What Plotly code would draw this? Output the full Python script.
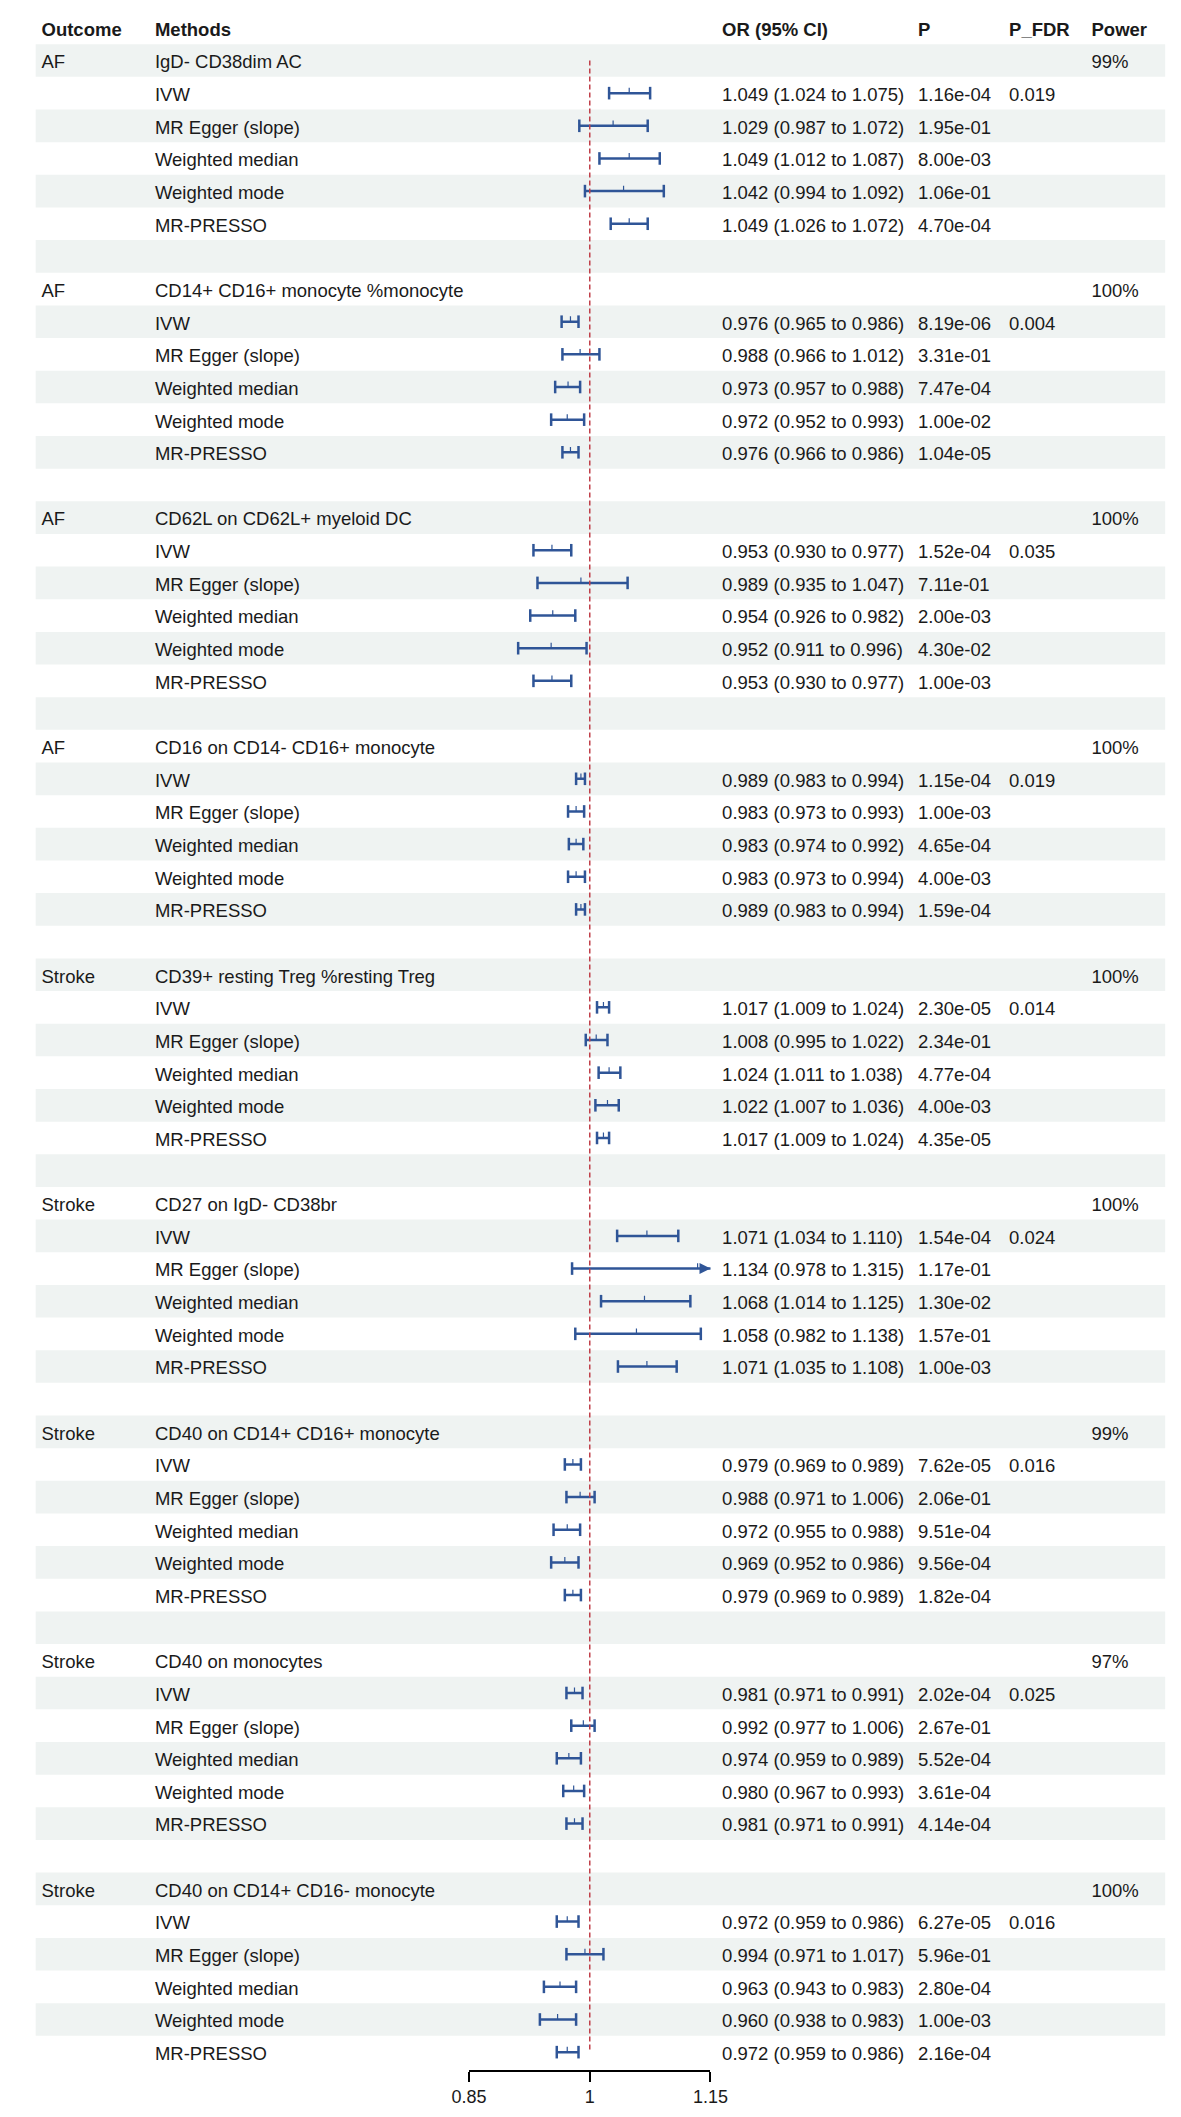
import plotly.graph_objects as go

# data
outcomes = ["AF", "AF", "AF", "AF", "Stroke", "Stroke", "Stroke", "Stroke", "Stroke"]
exposures = [
    "IgD- CD38dim AC",
    "CD14+ CD16+ monocyte %monocyte",
    "CD62L on CD62L+ myeloid DC",
    "CD16 on CD14- CD16+ monocyte",
    "CD39+ resting Treg %resting Treg",
    "CD27 on IgD- CD38br",
    "CD40 on CD14+ CD16+ monocyte",
    "CD40 on monocytes",
    "CD40 on CD14+ CD16- monocyte",
]
power = ["99%", "100%", "100%", "100%", "100%", "100%", "99%", "97%", "100%"]
p_fdr = ["0.019", "0.004", "0.035", "0.019", "0.014", "0.024", "0.016", "0.025", "0.016"]
methods = ["IVW", "MR Egger (slope)", "Weighted median", "Weighted mode", "MR-PRESSO"]

or_est = [
    [1.049, 1.029, 1.049, 1.042, 1.049],
    [0.976, 0.988, 0.973, 0.972, 0.976],
    [0.953, 0.989, 0.954, 0.952, 0.953],
    [0.989, 0.983, 0.983, 0.983, 0.989],
    [1.017, 1.008, 1.024, 1.022, 1.017],
    [1.071, 1.134, 1.068, 1.058, 1.071],
    [0.979, 0.988, 0.972, 0.969, 0.979],
    [0.981, 0.992, 0.974, 0.980, 0.981],
    [0.972, 0.994, 0.963, 0.960, 0.972],
]
ci_low = [
    [1.024, 0.987, 1.012, 0.994, 1.026],
    [0.965, 0.966, 0.957, 0.952, 0.966],
    [0.930, 0.935, 0.926, 0.911, 0.930],
    [0.983, 0.973, 0.974, 0.973, 0.983],
    [1.009, 0.995, 1.011, 1.007, 1.009],
    [1.034, 0.978, 1.014, 0.982, 1.035],
    [0.969, 0.971, 0.955, 0.952, 0.969],
    [0.971, 0.977, 0.959, 0.967, 0.971],
    [0.959, 0.971, 0.943, 0.938, 0.959],
]
ci_high = [
    [1.075, 1.072, 1.087, 1.092, 1.072],
    [0.986, 1.012, 0.988, 0.993, 0.986],
    [0.977, 1.047, 0.982, 0.996, 0.977],
    [0.994, 0.993, 0.992, 0.994, 0.994],
    [1.024, 1.022, 1.038, 1.036, 1.024],
    [1.110, 1.315, 1.125, 1.138, 1.108],
    [0.989, 1.006, 0.988, 0.986, 0.989],
    [0.991, 1.006, 0.989, 0.993, 0.991],
    [0.986, 1.017, 0.983, 0.983, 0.986],
]
p_vals = [
    ["1.16e-04", "1.95e-01", "8.00e-03", "1.06e-01", "4.70e-04"],
    ["8.19e-06", "3.31e-01", "7.47e-04", "1.00e-02", "1.04e-05"],
    ["1.52e-04", "7.11e-01", "2.00e-03", "4.30e-02", "1.00e-03"],
    ["1.15e-04", "1.00e-03", "4.65e-04", "4.00e-03", "1.59e-04"],
    ["2.30e-05", "2.34e-01", "4.77e-04", "4.00e-03", "4.35e-05"],
    ["1.54e-04", "1.17e-01", "1.30e-02", "1.57e-01", "1.00e-03"],
    ["7.62e-05", "2.06e-01", "9.51e-04", "9.56e-04", "1.82e-04"],
    ["2.02e-04", "2.67e-01", "5.52e-04", "3.61e-04", "4.14e-04"],
    ["6.27e-05", "5.96e-01", "2.80e-04", "1.00e-03", "2.16e-04"],
]

W, H = 1181, 2117
ROW0, ROWH = 52.5, 32.65          # pixel centre of first row, row height
XMIN, XMAX = 0.85, 1.15
FONT = "Liberation Sans"
FS = 18.5
BLUE = "#2f5597"
BAND = "#eff3f2"
TXT = "#1a1a1a"
col_x = dict(outcome=16, method=133, orci=718, p=920, fdr=1014, power=1099)
TOFF = 0.1  # text sits a little below the band centre

n_rows = len(exposures) * 7 - 1

fig = go.Figure()

# alternating row bands
shapes = []
for k in range(n_rows):
    if k % 2 == 0:
        shapes.append(dict(type="rect", xref="paper", yref="y", x0=10 / W, x1=1175 / W,
                           y0=k - 0.5, y1=k + 0.5, fillcolor=BAND, line_width=0, layer="below"))

# reference line at OR = 1
shapes.append(dict(type="line", xref="x", yref="y", x0=1, x1=1, y0=0, y1=n_rows - 1,
                   line=dict(color="#c0404a", width=1.5, dash="5px,3px")))

# table text
tx, ty, tt = [], [], []
def put(col, k, s):
    tx.append(col_x[col]); ty.append(k + TOFF); tt.append(s)

ci_x, ci_y, cap_x, cap_y, pt_x, pt_y, arr_x, arr_y = [], [], [], [], [], [], [], []
for g in range(len(exposures)):
    k0 = g * 7
    put("outcome", k0, outcomes[g])
    put("method", k0, exposures[g])
    put("power", k0, power[g])
    for m, name in enumerate(methods):
        k = k0 + 1 + m
        put("method", k, name)
        put("orci", k, f"{or_est[g][m]:.3f} ({ci_low[g][m]:.3f} to {ci_high[g][m]:.3f})")
        put("p", k, p_vals[g][m])
        if m == 0:
            put("fdr", k, p_fdr[g])
        lo, hi = ci_low[g][m], ci_high[g][m]
        ci_x += [lo, hi, None]
        ci_y += [k, k, None]
        cap_x.append(lo); cap_y.append(k)
        if hi > XMAX:
            arr_x.append(XMAX); arr_y.append(k)
        else:
            cap_x.append(hi); cap_y.append(k)
        pt_x.append(or_est[g][m]); pt_y.append(k - 0.08)

fig.add_trace(go.Scatter(x=tx, y=ty, text=tt, mode="text", textposition="middle right",
                         textfont=dict(family=FONT, size=FS, color=TXT),
                         xaxis="x2", yaxis="y", hoverinfo="skip", showlegend=False))

# header row
hx = [col_x["outcome"], col_x["method"], col_x["orci"], col_x["p"], col_x["fdr"], col_x["power"]]
ht = ["<b>Outcome</b>", "<b>Methods</b>", "<b>OR (95% CI)</b>", "<b>P</b>", "<b>P_FDR</b>", "<b>Power</b>"]
fig.add_trace(go.Scatter(x=hx, y=[-1 + TOFF] * len(hx), text=ht, mode="text",
                         textposition="middle right",
                         textfont=dict(family=FONT, size=FS, color=TXT),
                         xaxis="x2", yaxis="y", hoverinfo="skip", showlegend=False))

# confidence intervals
fig.add_trace(go.Scatter(x=ci_x, y=ci_y, mode="lines", line=dict(color=BLUE, width=2.5),
                         hoverinfo="skip", showlegend=False))
fig.add_trace(go.Scatter(x=cap_x, y=cap_y, mode="markers", cliponaxis=False,
                         marker=dict(symbol="line-ns", size=9, line=dict(color=BLUE, width=2.5)),
                         hoverinfo="skip", showlegend=False))
fig.add_trace(go.Scatter(x=pt_x, y=pt_y, mode="markers",
                         marker=dict(symbol="line-ns", size=4, line=dict(color=BLUE, width=1.2)),
                         hoverinfo="skip", showlegend=False))
fig.add_trace(go.Scatter(x=arr_x, y=arr_y, mode="markers", cliponaxis=False,
                         marker=dict(symbol="arrow-right", size=11, color=BLUE, line=dict(width=0)),
                         hoverinfo="skip", showlegend=False))

ytop = -ROW0 / ROWH
ybot = (H - ROW0) / ROWH
fig.update_layout(
    width=W, height=H,
    margin=dict(l=0, r=0, t=0, b=0),
    paper_bgcolor="white", plot_bgcolor="rgba(0,0,0,0)",
    shapes=shapes,
    font=dict(family=FONT, size=FS, color=TXT),
    xaxis=dict(domain=[457 / W, 706 / W], range=[XMIN, XMAX], anchor="free",
               position=1 - 2063 / H, showline=True, linecolor="black", linewidth=1.5,
               ticks="outside", ticklen=10, tickwidth=1.5, tickcolor="black",
               tickvals=[0.85, 1, 1.15], ticktext=["0.85", "1", "1.15"],
               tickfont=dict(family=FONT, size=18, color=TXT),
               showgrid=False, zeroline=False, fixedrange=True),
    xaxis2=dict(domain=[0, 1], range=[0, W], visible=False, anchor="y", fixedrange=True),
    yaxis=dict(domain=[0, 1], range=[ybot, ytop], visible=False, fixedrange=True),
)

fig.write_html("out.html")
